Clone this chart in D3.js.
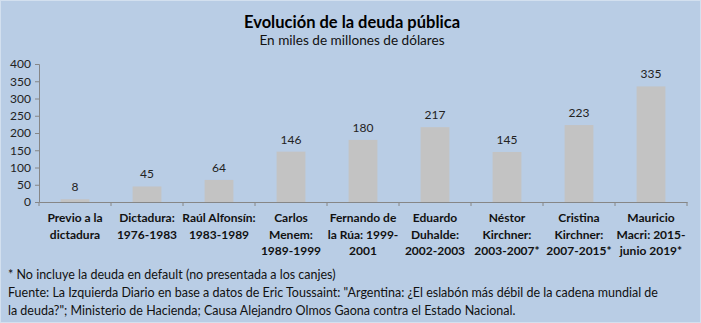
<!DOCTYPE html>
<html><head><meta charset="utf-8">
<script src="https://cdn.jsdelivr.net/npm/d3@7"></script>
<style>
html,body{margin:0;padding:0;background:#b9cde5;}
svg{display:block;font-family:Lato,"Open Sans",sans-serif;}
</style></head>
<body><svg id="c" width="701" height="323"></svg>
<script>
const categories = [
  "Previo a la\ndictadura",
  "Dictadura:\n1976-1983",
  "Raúl Alfonsín:\n1983-1989",
  "Carlos\nMenem:\n1989-1999",
  "Fernando de\nla Rúa: 1999-\n2001",
  "Eduardo\nDuhalde:\n2002-2003",
  "Néstor\nKirchner:\n2003-2007*",
  "Cristina\nKirchner:\n2007-2015*",
  "Mauricio\nMacri: 2015-\njunio 2019*"
];
const values = [8, 45, 64, 146, 180, 217, 145, 223, 335];
const yTicks = [0, 50, 100, 150, 200, 250, 300, 350, 400];
const title = "Evolución de la deuda pública";
const subtitle = "En miles de millones de dólares";
const notes = [
  "* No incluye la deuda en default (no presentada a los canjes)",
  "Fuente: La Izquierda Diario en base a datos de Eric Toussaint: \"Argentina: ¿El eslabón más débil de la cadena mundial de",
  "la deuda?\"; Ministerio de Hacienda; Causa Alejandro Olmos Gaona contra el Estado Nacional."
];

const svg = d3.select("#c");
svg.append("rect").attr("x",0.5).attr("y",0.5).attr("width",700).attr("height",322)
  .attr("fill","#b9cde5").attr("stroke","#d3e0ef");

const x = d3.scaleBand().domain(categories).range([39, 687]).padding(0);
const y = d3.scaleLinear().domain([0, 400]).range([202, 64]);

svg.append("text").attr("x",352).attr("y",28).attr("text-anchor","middle")
  .attr("font-size",16.5).attr("font-weight","bold").attr("fill","#000").text(title);
svg.append("text").attr("x",352).attr("y",45).attr("text-anchor","middle")
  .attr("font-size",13.6).attr("fill","#111").text(subtitle);

// y axis
const ya = svg.append("g").attr("transform","translate(39,0)")
  .call(d3.axisLeft(y).tickValues(yTicks).tickSize(4).tickPadding(4));
ya.select(".domain").attr("stroke","#868686");
ya.selectAll(".tick line").attr("stroke","#868686");
ya.selectAll(".tick text").attr("font-size",12).attr("fill","#222").attr("font-family","Lato");

// bars
const bw = x.bandwidth()*0.4;
svg.append("g").selectAll("rect").data(values).join("rect")
  .attr("x",(d,i)=>x(categories[i]) + (x.bandwidth()-bw)/2)
  .attr("y",d=>y(d)).attr("width",bw).attr("height",d=>y(0)-y(d))
  .attr("fill","#c3c3c3");

// data labels
svg.append("g").selectAll("text").data(values).join("text")
  .attr("x",(d,i)=>x(categories[i]) + x.bandwidth()/2)
  .attr("y",d=>y(d)-8).attr("text-anchor","middle")
  .attr("font-size",12).attr("fill","#222").text(d=>d);

// x axis
const xa = svg.append("g").attr("transform",`translate(0,${y(0)})`)
  .call(d3.axisBottom(x).tickSize(0).tickFormat(""));
xa.select(".domain").attr("stroke","#868686");
const bounds = d3.range(categories.length+1).map(i=>39 + i*x.step());
xa.selectAll("line.sep").data(bounds).join("line").attr("class","sep")
  .attr("x1",d=>d).attr("x2",d=>d).attr("y1",0).attr("y2",4).attr("stroke","#868686");

// category labels
const cl = svg.append("g").selectAll("text").data(categories).join("text")
  .attr("text-anchor","middle").attr("font-size",12).attr("font-weight","bold").attr("fill","#111");
cl.each(function(c){
  const t = d3.select(this);
  c.split("\n").forEach((line,j)=>{
    t.append("tspan").attr("x",x(c)+x.bandwidth()/2).attr("y",222 + j*16.5).text(line);
  });
});

// notes
svg.append("g").selectAll("text").data(notes).join("text")
  .attr("x",8).attr("y",(d,i)=>279 + i*18).attr("font-size",12.5).attr("fill","#111").text(d=>d);
</script></body></html>
